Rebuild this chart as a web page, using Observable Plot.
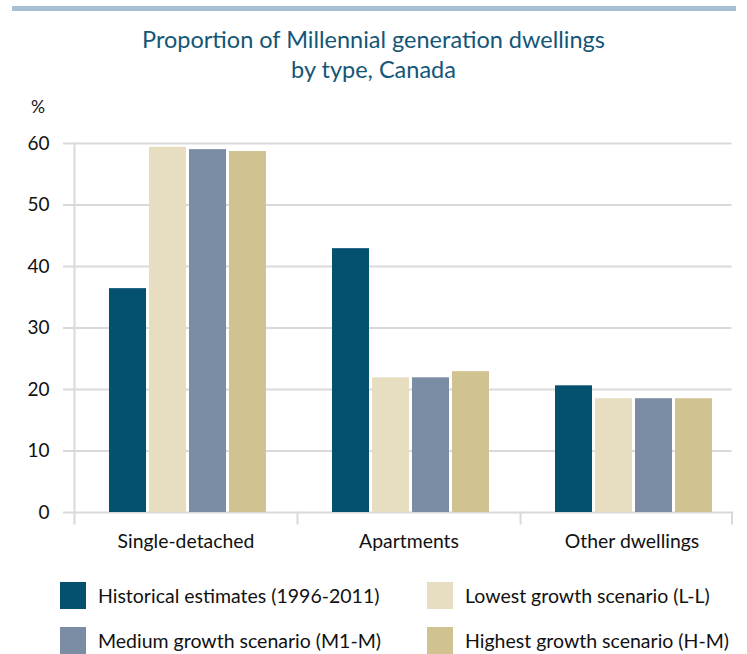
<!DOCTYPE html>
<html><head><meta charset="utf-8">
<script src="https://cdn.jsdelivr.net/npm/d3@7"></script>
<script src="https://cdn.jsdelivr.net/npm/@observablehq/plot@0.6"></script>
<style>
body{margin:0;background:#fff;font-family:Lato,sans-serif;}
#wrap{position:relative;width:747px;height:654px;overflow:hidden;}
#bar{position:absolute;left:12px;top:6px;width:724px;height:5px;background:#a7bfd2;}
#title{position:absolute;left:0;width:747px;top:24px;text-align:center;color:#135677;font-size:23.5px;line-height:30px;}
#pct{position:absolute;left:31px;top:96px;font-size:17.5px;color:#111;}
#chart{position:absolute;left:0;top:120px;}
.item{position:absolute;display:flex;align-items:center;font-size:19.5px;color:#111;white-space:nowrap;}
.sw{width:26px;height:27px;margin-right:12px;flex:none;}
</style></head><body>
<div id="wrap">
<div id="bar"></div>
<div id="title">Proportion of Millennial generation dwellings<br>by type, Canada</div>
<div id="pct">%</div>
<div id="chart"></div>
</div>
<script>
const categories = ["Single-detached", "Apartments", "Other dwellings"];
const series = ["Historical estimates (1996-2011)", "Lowest growth scenario (L-L)", "Medium growth scenario (M1-M)", "Highest growth scenario (H-M)"];
const historical = [36.4, 42.9, 20.6];
const lowest = [59.4, 21.9, 18.5];
const medium = [59.0, 21.9, 18.5];
const highest = [58.7, 22.9, 18.5];
const colors = ["#03506f", "#e7ddc1", "#7b8ca5", "#d1c291"];
const yTicks = [0, 10, 20, 30, 40, 50, 60];

const valuesBySeries = [historical, lowest, medium, highest];
const data = series.flatMap((s, i) => categories.map((c, j) => ({category: c, series: s, value: valuesBySeries[i][j]})));
const grid = "#d9d9d9";
const first = categories[0], last = categories[categories.length - 1];
const gridData = categories.flatMap(c => yTicks.map(t => ({c, t})));

const chart = Plot.plot({
  width: 747, height: 440,
  marginTop: 23, marginBottom: 37, marginLeft: 62, marginRight: 15,
  style: {fontFamily: "Lato, sans-serif", fontSize: "19.4px", color: "#111", background: "transparent"},
  fx: {domain: categories, range: [73, 743.5], padding: 0, label: null, axis: "bottom", tickSize: 0, tickPadding: 11},
  x: {domain: series, paddingInner: 0.082, paddingOuter: 0.814, align: 0.53, axis: null},
  y: {domain: [0, 60], insetBottom: 11, axis: null},
  color: {domain: series, range: colors},
  marks: [
    Plot.ruleY(gridData.filter(d => d.c === first), {fx: "c", y: "t", stroke: grid, strokeWidth: 2, insetLeft: -11}),
    Plot.ruleY(gridData.filter(d => d.c !== first && d.c !== last), {fx: "c", y: "t", stroke: grid, strokeWidth: 2}),
    Plot.ruleY(gridData.filter(d => d.c === last), {fx: "c", y: "t", stroke: grid, strokeWidth: 2, insetRight: 11.5}),
    Plot.frame({anchor: "left", fx: () => first, stroke: grid, strokeWidth: 2}),
    Plot.frame({anchor: "left", fx: (d, i) => categories.slice(1)[i] ?? categories[1], insetTop: 369, stroke: grid, strokeWidth: 2}),
    Plot.frame({anchor: "left", fx: () => last, insetTop: 369, stroke: grid, strokeWidth: 2}),
    Plot.frame({anchor: "right", fx: () => last, insetTop: 369, insetRight: 11.5, stroke: grid, strokeWidth: 2}),
    Plot.barY(data, {fx: "category", x: "series", y: "value", fill: "series"}),
    Plot.text(yTicks, {fx: () => first, y: d => d, text: d => String(d), frameAnchor: "left", textAnchor: "end", dx: -25, fontSize: 19, fill: "#111"})
  ]
});
document.getElementById("chart").appendChild(chart);

const wrap = document.getElementById("wrap");
const colX = [60, 427], rowY = [582, 627];
series.forEach((s, i) => {
  const item = document.createElement("div");
  item.className = "item";
  item.style.left = colX[i % 2] + "px";
  item.style.top = rowY[Math.floor(i / 2)] + "px";
  const sw = document.createElement("div");
  sw.className = "sw";
  sw.style.background = colors[i];
  const label = document.createElement("span");
  label.textContent = s;
  item.appendChild(sw);
  item.appendChild(label);
  wrap.appendChild(item);
});
</script>
</body></html>
